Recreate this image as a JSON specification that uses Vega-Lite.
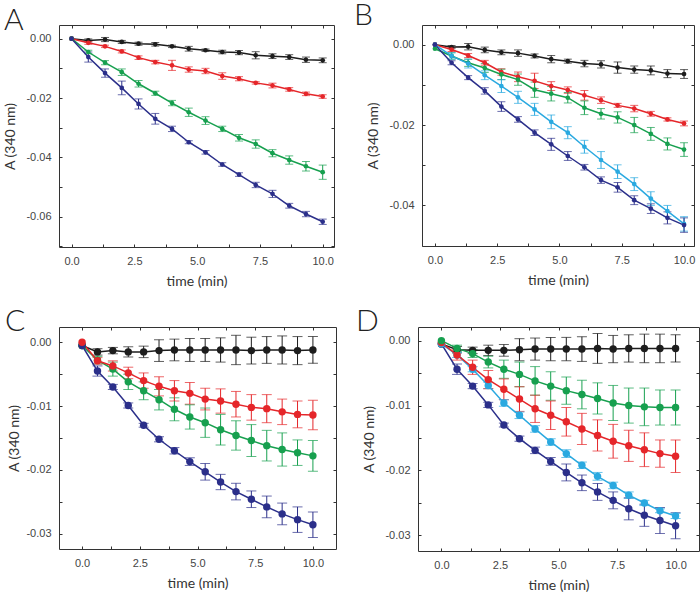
{
"$schema": "https://vega.github.io/schema/vega-lite/v6.json",
"padding": {"left": 3, "top": 0, "right": 0, "bottom": 0},
"background": "white",
"config": {
  "view": {"stroke": "#333", "strokeWidth": 1},
  "axis": {"domain": false, "grid": false, "labelFont": "Liberation Sans", "labelFontSize": 11, "labelColor": "#444", "titleFont": "Lato", "titleFontSize": 14, "titleFontWeight": "normal", "titleColor": "#333", "tickColor": "#333", "tickWidth": 1, "tickSize": -3},
  "axisBottom": {"labelPadding": 11, "titlePadding": 8},
  "axisLeft": {"labelPadding": 11, "titlePadding": 8},
  "axisTop": {"labels": false, "title": null},
  "axisRight": {"labels": false, "title": null},
  "title": {"font": "Lato", "fontSize": 30, "fontWeight": 300, "color": "#222", "anchor": "start", "frame": "group"}
},
"datasets": {
"A": [
{"t":0,"v":0,"e":0,"s":"k"},{"t":0.667,"v":-0.0006,"e":0.0005,"s":"k"},{"t":1.333,"v":-0.0003,"e":0.0007,"s":"k"},{"t":2,"v":-0.0011,"e":0.0005,"s":"k"},{"t":2.667,"v":-0.0017,"e":0.0005,"s":"k"},{"t":3.333,"v":-0.0019,"e":0.0006,"s":"k"},{"t":4,"v":-0.0026,"e":0.0004,"s":"k"},{"t":4.667,"v":-0.0034,"e":0.0008,"s":"k"},{"t":5.333,"v":-0.0039,"e":0.0004,"s":"k"},{"t":6,"v":-0.0045,"e":0.0006,"s":"k"},{"t":6.667,"v":-0.0047,"e":0.0007,"s":"k"},{"t":7.333,"v":-0.0056,"e":0.0012,"s":"k"},{"t":8,"v":-0.0059,"e":0.0008,"s":"k"},{"t":8.667,"v":-0.0062,"e":0.0008,"s":"k"},{"t":9.333,"v":-0.0071,"e":0.0009,"s":"k"},{"t":10,"v":-0.0073,"e":0.0008,"s":"k"},
{"t":0,"v":0,"e":0,"s":"r"},{"t":0.667,"v":-0.0014,"e":0.0005,"s":"r"},{"t":1.333,"v":-0.0026,"e":0.0004,"s":"r"},{"t":2,"v":-0.0043,"e":0.0005,"s":"r"},{"t":2.667,"v":-0.0064,"e":0.0006,"s":"r"},{"t":3.333,"v":-0.0079,"e":0.0006,"s":"r"},{"t":4,"v":-0.009,"e":0.0017,"s":"r"},{"t":4.667,"v":-0.0104,"e":0.0009,"s":"r"},{"t":5.333,"v":-0.0109,"e":0.0009,"s":"r"},{"t":6,"v":-0.0126,"e":0.0011,"s":"r"},{"t":6.667,"v":-0.0135,"e":0.0007,"s":"r"},{"t":7.333,"v":-0.0149,"e":0.0004,"s":"r"},{"t":8,"v":-0.0158,"e":0.0008,"s":"r"},{"t":8.667,"v":-0.0171,"e":0.0006,"s":"r"},{"t":9.333,"v":-0.0186,"e":0.0006,"s":"r"},{"t":10,"v":-0.0195,"e":0.0006,"s":"r"},
{"t":0,"v":0,"e":0,"s":"g"},{"t":0.667,"v":-0.0045,"e":0.0006,"s":"g"},{"t":1.333,"v":-0.0081,"e":0.0007,"s":"g"},{"t":2,"v":-0.0113,"e":0.0011,"s":"g"},{"t":2.667,"v":-0.0152,"e":0.0011,"s":"g"},{"t":3.333,"v":-0.0184,"e":0.0007,"s":"g"},{"t":4,"v":-0.0217,"e":0.0009,"s":"g"},{"t":4.667,"v":-0.0248,"e":0.0014,"s":"g"},{"t":5.333,"v":-0.0276,"e":0.0013,"s":"g"},{"t":6,"v":-0.0304,"e":0.0009,"s":"g"},{"t":6.667,"v":-0.0334,"e":0.0011,"s":"g"},{"t":7.333,"v":-0.0355,"e":0.0014,"s":"g"},{"t":8,"v":-0.0386,"e":0.0012,"s":"g"},{"t":8.667,"v":-0.0409,"e":0.0014,"s":"g"},{"t":9.333,"v":-0.043,"e":0.0016,"s":"g"},{"t":10,"v":-0.045,"e":0.0024,"s":"g"},
{"t":0,"v":0,"e":0,"s":"n"},{"t":0.667,"v":-0.0062,"e":0.0017,"s":"n"},{"t":1.333,"v":-0.0116,"e":0.0014,"s":"n"},{"t":2,"v":-0.0166,"e":0.0023,"s":"n"},{"t":2.667,"v":-0.022,"e":0.0017,"s":"n"},{"t":3.333,"v":-0.027,"e":0.0018,"s":"n"},{"t":4,"v":-0.0304,"e":0.0009,"s":"n"},{"t":4.667,"v":-0.0349,"e":0.0005,"s":"n"},{"t":5.333,"v":-0.0383,"e":0.0006,"s":"n"},{"t":6,"v":-0.0424,"e":0.0006,"s":"n"},{"t":6.667,"v":-0.0458,"e":0.0006,"s":"n"},{"t":7.333,"v":-0.0493,"e":0.0009,"s":"n"},{"t":8,"v":-0.0523,"e":0.0012,"s":"n"},{"t":8.667,"v":-0.0563,"e":0.0008,"s":"n"},{"t":9.333,"v":-0.0591,"e":0.0009,"s":"n"},{"t":10,"v":-0.0617,"e":0.0009,"s":"n"}
],
"B": [
{"t":0,"v":0,"e":0,"s":"k"},{"t":0.667,"v":-0.0006,"e":0.0004,"s":"k"},{"t":1.333,"v":-0.0005,"e":0.0008,"s":"k"},{"t":2,"v":-0.0013,"e":0.0007,"s":"k"},{"t":2.667,"v":-0.0019,"e":0.0006,"s":"k"},{"t":3.333,"v":-0.0021,"e":0.0008,"s":"k"},{"t":4,"v":-0.0028,"e":0.0005,"s":"k"},{"t":4.667,"v":-0.0036,"e":0.0009,"s":"k"},{"t":5.333,"v":-0.0041,"e":0.0005,"s":"k"},{"t":6,"v":-0.0047,"e":0.0008,"s":"k"},{"t":6.667,"v":-0.0049,"e":0.0009,"s":"k"},{"t":7.333,"v":-0.0057,"e":0.0014,"s":"k"},{"t":8,"v":-0.0062,"e":0.0009,"s":"k"},{"t":8.667,"v":-0.0064,"e":0.0011,"s":"k"},{"t":9.333,"v":-0.0072,"e":0.001,"s":"k"},{"t":10,"v":-0.0073,"e":0.0011,"s":"k"},
{"t":0,"v":0,"e":0,"s":"r"},{"t":0.667,"v":-0.0012,"e":0.0005,"s":"r"},{"t":1.333,"v":-0.0027,"e":0.0005,"s":"r"},{"t":2,"v":-0.0045,"e":0.0006,"s":"r"},{"t":2.667,"v":-0.0068,"e":0.0008,"s":"r"},{"t":3.333,"v":-0.008,"e":0.0012,"s":"r"},{"t":4,"v":-0.009,"e":0.0019,"s":"r"},{"t":4.667,"v":-0.0103,"e":0.0011,"s":"r"},{"t":5.333,"v":-0.0113,"e":0.0008,"s":"r"},{"t":6,"v":-0.0126,"e":0.0012,"s":"r"},{"t":6.667,"v":-0.0138,"e":0.0008,"s":"r"},{"t":7.333,"v":-0.0151,"e":0.0005,"s":"r"},{"t":8,"v":-0.0159,"e":0.0008,"s":"r"},{"t":8.667,"v":-0.0172,"e":0.0006,"s":"r"},{"t":9.333,"v":-0.0186,"e":0.0004,"s":"r"},{"t":10,"v":-0.0196,"e":0.0006,"s":"r"},
{"t":0,"v":-0.001,"e":0,"s":"g"},{"t":0.667,"v":-0.0028,"e":0.0008,"s":"g"},{"t":1.333,"v":-0.0045,"e":0.0009,"s":"g"},{"t":2,"v":-0.0058,"e":0.0011,"s":"g"},{"t":2.667,"v":-0.0074,"e":0.0013,"s":"g"},{"t":3.333,"v":-0.0087,"e":0.0014,"s":"g"},{"t":4,"v":-0.0112,"e":0.0019,"s":"g"},{"t":4.667,"v":-0.0122,"e":0.0018,"s":"g"},{"t":5.333,"v":-0.0132,"e":0.0013,"s":"g"},{"t":6,"v":-0.0157,"e":0.0017,"s":"g"},{"t":6.667,"v":-0.0172,"e":0.0013,"s":"g"},{"t":7.333,"v":-0.0181,"e":0.0014,"s":"g"},{"t":8,"v":-0.02,"e":0.0019,"s":"g"},{"t":8.667,"v":-0.0222,"e":0.0016,"s":"g"},{"t":9.333,"v":-0.0247,"e":0.0015,"s":"g"},{"t":10,"v":-0.0261,"e":0.0017,"s":"g"},
{"t":0,"v":0,"e":0,"s":"c"},{"t":0.667,"v":-0.0028,"e":0.0008,"s":"c"},{"t":1.333,"v":-0.0047,"e":0.0011,"s":"c"},{"t":2,"v":-0.0076,"e":0.0011,"s":"c"},{"t":2.667,"v":-0.0103,"e":0.0016,"s":"c"},{"t":3.333,"v":-0.0131,"e":0.0015,"s":"c"},{"t":4,"v":-0.0161,"e":0.0015,"s":"c"},{"t":4.667,"v":-0.0192,"e":0.0017,"s":"c"},{"t":5.333,"v":-0.0219,"e":0.0015,"s":"c"},{"t":6,"v":-0.0254,"e":0.0016,"s":"c"},{"t":6.667,"v":-0.0287,"e":0.0021,"s":"c"},{"t":7.333,"v":-0.0316,"e":0.0017,"s":"c"},{"t":8,"v":-0.0347,"e":0.0016,"s":"c"},{"t":8.667,"v":-0.0383,"e":0.0017,"s":"c"},{"t":9.333,"v":-0.0414,"e":0.0014,"s":"c"},{"t":10,"v":-0.0446,"e":0.0018,"s":"c"},
{"t":0,"v":0,"e":0,"s":"n"},{"t":0.667,"v":-0.0045,"e":0.0005,"s":"n"},{"t":1.333,"v":-0.0082,"e":0.0005,"s":"n"},{"t":2,"v":-0.0115,"e":0.0008,"s":"n"},{"t":2.667,"v":-0.0154,"e":0.0012,"s":"n"},{"t":3.333,"v":-0.0186,"e":0.0007,"s":"n"},{"t":4,"v":-0.0219,"e":0.0007,"s":"n"},{"t":4.667,"v":-0.0248,"e":0.0015,"s":"n"},{"t":5.333,"v":-0.0277,"e":0.0011,"s":"n"},{"t":6,"v":-0.0305,"e":0.0007,"s":"n"},{"t":6.667,"v":-0.0337,"e":0.0008,"s":"n"},{"t":7.333,"v":-0.0355,"e":0.0012,"s":"n"},{"t":8,"v":-0.0387,"e":0.0011,"s":"n"},{"t":8.667,"v":-0.0408,"e":0.0012,"s":"n"},{"t":9.333,"v":-0.0431,"e":0.0015,"s":"n"},{"t":10,"v":-0.0449,"e":0.0018,"s":"n"}
],
"C": [
{"t":0,"v":-0.0005,"e":0,"s":"k"},{"t":0.667,"v":-0.0015,"e":0.0005,"s":"k"},{"t":1.333,"v":-0.0013,"e":0.0005,"s":"k"},{"t":2,"v":-0.0015,"e":0.0008,"s":"k"},{"t":2.667,"v":-0.0015,"e":0.0009,"s":"k"},{"t":3.333,"v":-0.0013,"e":0.0017,"s":"k"},{"t":4,"v":-0.0012,"e":0.0017,"s":"k"},{"t":4.667,"v":-0.0012,"e":0.0018,"s":"k"},{"t":5.333,"v":-0.0012,"e":0.0018,"s":"k"},{"t":6,"v":-0.0012,"e":0.0019,"s":"k"},{"t":6.667,"v":-0.0012,"e":0.0023,"s":"k"},{"t":7.333,"v":-0.0013,"e":0.0021,"s":"k"},{"t":8,"v":-0.0012,"e":0.0021,"s":"k"},{"t":8.667,"v":-0.0012,"e":0.0022,"s":"k"},{"t":9.333,"v":-0.0013,"e":0.0022,"s":"k"},{"t":10,"v":-0.0012,"e":0.0021,"s":"k"},
{"t":0,"v":-0.0005,"e":0,"s":"g"},{"t":0.667,"v":-0.0028,"e":0.0006,"s":"g"},{"t":1.333,"v":-0.0042,"e":0.0011,"s":"g"},{"t":2,"v":-0.0062,"e":0.0012,"s":"g"},{"t":2.667,"v":-0.0076,"e":0.0014,"s":"g"},{"t":3.333,"v":-0.009,"e":0.0016,"s":"g"},{"t":4,"v":-0.0105,"e":0.0018,"s":"g"},{"t":4.667,"v":-0.0117,"e":0.0019,"s":"g"},{"t":5.333,"v":-0.0126,"e":0.0023,"s":"g"},{"t":6,"v":-0.0137,"e":0.0024,"s":"g"},{"t":6.667,"v":-0.0146,"e":0.0023,"s":"g"},{"t":7.333,"v":-0.0154,"e":0.0025,"s":"g"},{"t":8,"v":-0.0162,"e":0.0024,"s":"g"},{"t":8.667,"v":-0.0168,"e":0.0026,"s":"g"},{"t":9.333,"v":-0.0173,"e":0.002,"s":"g"},{"t":10,"v":-0.0178,"e":0.0024,"s":"g"},
{"t":0,"v":-0.0005,"e":0,"s":"n"},{"t":0.667,"v":-0.0045,"e":0.0008,"s":"n"},{"t":1.333,"v":-0.007,"e":0.0004,"s":"n"},{"t":2,"v":-0.0099,"e":0.0004,"s":"n"},{"t":2.667,"v":-0.013,"e":0.0003,"s":"n"},{"t":3.333,"v":-0.0152,"e":0.0004,"s":"n"},{"t":4,"v":-0.017,"e":0.0005,"s":"n"},{"t":4.667,"v":-0.0187,"e":0.0006,"s":"n"},{"t":5.333,"v":-0.0203,"e":0.0013,"s":"n"},{"t":6,"v":-0.0219,"e":0.0012,"s":"n"},{"t":6.667,"v":-0.0234,"e":0.0013,"s":"n"},{"t":7.333,"v":-0.0246,"e":0.0013,"s":"n"},{"t":8,"v":-0.0258,"e":0.0017,"s":"n"},{"t":8.667,"v":-0.0269,"e":0.0017,"s":"n"},{"t":9.333,"v":-0.0278,"e":0.002,"s":"n"},{"t":10,"v":-0.0286,"e":0.002,"s":"n"},
{"t":0,"v":0,"e":0,"s":"r"},{"t":0.667,"v":-0.0029,"e":0.0005,"s":"r"},{"t":1.333,"v":-0.0037,"e":0.0008,"s":"r"},{"t":2,"v":-0.0048,"e":0.0009,"s":"r"},{"t":2.667,"v":-0.006,"e":0.0012,"s":"r"},{"t":3.333,"v":-0.0069,"e":0.0015,"s":"r"},{"t":4,"v":-0.0076,"e":0.0016,"s":"r"},{"t":4.667,"v":-0.008,"e":0.0017,"s":"r"},{"t":5.333,"v":-0.0089,"e":0.0017,"s":"r"},{"t":6,"v":-0.0092,"e":0.0019,"s":"r"},{"t":6.667,"v":-0.0097,"e":0.002,"s":"r"},{"t":7.333,"v":-0.0102,"e":0.002,"s":"r"},{"t":8,"v":-0.0104,"e":0.0022,"s":"r"},{"t":8.667,"v":-0.0109,"e":0.002,"s":"r"},{"t":9.333,"v":-0.0113,"e":0.0021,"s":"r"},{"t":10,"v":-0.0114,"e":0.0023,"s":"r"}
],
"D": [
{"t":0,"v":-0.0005,"e":0,"s":"k"},{"t":0.667,"v":-0.0014,"e":0.0005,"s":"k"},{"t":1.333,"v":-0.0015,"e":0.0005,"s":"k"},{"t":2,"v":-0.0015,"e":0.0008,"s":"k"},{"t":2.667,"v":-0.0015,"e":0.0009,"s":"k"},{"t":3.333,"v":-0.0014,"e":0.0017,"s":"k"},{"t":4,"v":-0.0013,"e":0.0017,"s":"k"},{"t":4.667,"v":-0.0013,"e":0.0018,"s":"k"},{"t":5.333,"v":-0.0013,"e":0.0018,"s":"k"},{"t":6,"v":-0.0013,"e":0.0019,"s":"k"},{"t":6.667,"v":-0.0012,"e":0.0023,"s":"k"},{"t":7.333,"v":-0.0013,"e":0.0021,"s":"k"},{"t":8,"v":-0.0012,"e":0.0021,"s":"k"},{"t":8.667,"v":-0.0012,"e":0.0022,"s":"k"},{"t":9.333,"v":-0.0012,"e":0.0022,"s":"k"},{"t":10,"v":-0.0012,"e":0.0021,"s":"k"},
{"t":0,"v":-0.0005,"e":0,"s":"n"},{"t":0.667,"v":-0.0044,"e":0.0008,"s":"n"},{"t":1.333,"v":-0.007,"e":0.0004,"s":"n"},{"t":2,"v":-0.0099,"e":0.0004,"s":"n"},{"t":2.667,"v":-0.013,"e":0.0003,"s":"n"},{"t":3.333,"v":-0.0151,"e":0.0004,"s":"n"},{"t":4,"v":-0.0169,"e":0.0005,"s":"n"},{"t":4.667,"v":-0.0186,"e":0.0006,"s":"n"},{"t":5.333,"v":-0.0203,"e":0.0013,"s":"n"},{"t":6,"v":-0.0219,"e":0.0012,"s":"n"},{"t":6.667,"v":-0.0233,"e":0.0013,"s":"n"},{"t":7.333,"v":-0.0246,"e":0.0013,"s":"n"},{"t":8,"v":-0.0259,"e":0.0017,"s":"n"},{"t":8.667,"v":-0.0269,"e":0.0017,"s":"n"},{"t":9.333,"v":-0.0277,"e":0.002,"s":"n"},{"t":10,"v":-0.0285,"e":0.002,"s":"n"},
{"t":0,"v":-0.0005,"e":0,"s":"c"},{"t":0.667,"v":-0.0022,"e":0.0004,"s":"c"},{"t":1.333,"v":-0.0044,"e":0.0004,"s":"c"},{"t":2,"v":-0.0069,"e":0.0005,"s":"c"},{"t":2.667,"v":-0.0096,"e":0.0005,"s":"c"},{"t":3.333,"v":-0.0115,"e":0.0005,"s":"c"},{"t":4,"v":-0.0136,"e":0.0005,"s":"c"},{"t":4.667,"v":-0.0156,"e":0.0005,"s":"c"},{"t":5.333,"v":-0.0174,"e":0.0006,"s":"c"},{"t":6,"v":-0.0192,"e":0.0005,"s":"c"},{"t":6.667,"v":-0.0209,"e":0.0006,"s":"c"},{"t":7.333,"v":-0.0223,"e":0.0005,"s":"c"},{"t":8,"v":-0.0238,"e":0.0005,"s":"c"},{"t":8.667,"v":-0.025,"e":0.0004,"s":"c"},{"t":9.333,"v":-0.0262,"e":0.0003,"s":"c"},{"t":10,"v":-0.027,"e":0.0004,"s":"c"},
{"t":0,"v":-0.0003,"e":0,"s":"r"},{"t":0.667,"v":-0.0022,"e":0.0008,"s":"r"},{"t":1.333,"v":-0.0041,"e":0.0011,"s":"r"},{"t":2,"v":-0.006,"e":0.0014,"s":"r"},{"t":2.667,"v":-0.0075,"e":0.0016,"s":"r"},{"t":3.333,"v":-0.009,"e":0.0019,"s":"r"},{"t":4,"v":-0.0105,"e":0.0021,"s":"r"},{"t":4.667,"v":-0.0115,"e":0.0022,"s":"r"},{"t":5.333,"v":-0.0125,"e":0.0022,"s":"r"},{"t":6,"v":-0.0136,"e":0.0024,"s":"r"},{"t":6.667,"v":-0.0146,"e":0.0024,"s":"r"},{"t":7.333,"v":-0.0155,"e":0.0026,"s":"r"},{"t":8,"v":-0.0162,"e":0.0024,"s":"r"},{"t":8.667,"v":-0.0168,"e":0.0026,"s":"r"},{"t":9.333,"v":-0.0174,"e":0.0021,"s":"r"},{"t":10,"v":-0.0178,"e":0.0025,"s":"r"},
{"t":0,"v":0,"e":0,"s":"g"},{"t":0.667,"v":-0.0012,"e":0.0005,"s":"g"},{"t":1.333,"v":-0.002,"e":0.0006,"s":"g"},{"t":2,"v":-0.0033,"e":0.0009,"s":"g"},{"t":2.667,"v":-0.0044,"e":0.0014,"s":"g"},{"t":3.333,"v":-0.0052,"e":0.0019,"s":"g"},{"t":4,"v":-0.0062,"e":0.0022,"s":"g"},{"t":4.667,"v":-0.007,"e":0.0022,"s":"g"},{"t":5.333,"v":-0.0077,"e":0.0021,"s":"g"},{"t":6,"v":-0.0083,"e":0.0022,"s":"g"},{"t":6.667,"v":-0.0089,"e":0.0024,"s":"g"},{"t":7.333,"v":-0.0096,"e":0.0027,"s":"g"},{"t":8,"v":-0.01,"e":0.0027,"s":"g"},{"t":8.667,"v":-0.0102,"e":0.0029,"s":"g"},{"t":9.333,"v":-0.0103,"e":0.0027,"s":"g"},{"t":10,"v":-0.0103,"e":0.0027,"s":"g"}
]
},
"vconcat": [
{"hconcat": [
{
  "width": 275, "height": 222,
  "title": {"text": "A", "dx": -55, "offset": -35, "baseline": "alphabetic"},
  "data": {"name": "A"},
  "layer": [
    {"transform": [{"filter": "datum.t > 0"}], "mark": {"type": "errorbar", "ticks": {"size": 8}, "thickness": 1},
     "encoding": {"x": {"field": "t", "type": "quantitative", "scale": {"domain": [-0.5, 10.45], "nice": false, "zero": false}, "axis": null},
       "y": {"field": "v", "type": "quantitative", "scale": {"domain": [-0.0702, 0.0046], "nice": false, "zero": false}, "axis": null},
       "yError": {"field": "e"},
       "color": {"field": "s", "type": "nominal", "scale": {"domain": ["k","r","g","c","n"], "range": ["#1d1d1d","#e5262a","#17a04f","#2aa9e0","#2b2f8a"]}, "legend": null}}},
    {"mark": {"type": "line", "strokeWidth": 1.5},
     "encoding": {"x": {"field": "t", "type": "quantitative", "scale": {"domain": [-0.5, 10.45], "nice": false, "zero": false}, "axis": {"orient": "top", "values": [0,1.25,2.5,3.75,5,6.25,7.5,8.75,10]}},
       "y": {"field": "v", "type": "quantitative", "scale": {"domain": [-0.0702, 0.0046], "nice": false, "zero": false}, "axis": {"orient": "right", "values": [0,-0.01,-0.02,-0.03,-0.04,-0.05,-0.06,-0.07]}},
       "color": {"field": "s", "type": "nominal", "scale": {"domain": ["k","r","g","c","n"], "range": ["#1d1d1d","#e5262a","#17a04f","#2aa9e0","#2b2f8a"]}, "legend": null}}},
    {"mark": {"type": "point", "filled": true, "size": 22, "opacity": 1},
     "encoding": {"x": {"field": "t", "type": "quantitative", "scale": {"domain": [-0.5, 10.45], "nice": false, "zero": false}, "axis": {"orient": "bottom", "title": "time (min)", "values": [0,1.25,2.5,3.75,5,6.25,7.5,8.75,10], "labelExpr": "round(datum.value*100) % 250 != 0 ? '' : format(datum.value, '.1f')"}},
       "y": {"field": "v", "type": "quantitative", "scale": {"domain": [-0.0702, 0.0046], "nice": false, "zero": false}, "axis": {"orient": "left", "title": "A (340 nm)", "values": [0,-0.01,-0.02,-0.03,-0.04,-0.05,-0.06,-0.07], "labelExpr": "abs(round(datum.value*100)) % 2 == 1 ? '' : replace(format(datum.value, '.2f'), '−', '-')"}},
       "color": {"field": "s", "type": "nominal", "scale": {"domain": ["k","r","g","c","n"], "range": ["#1d1d1d","#e5262a","#17a04f","#2aa9e0","#2b2f8a"]}, "legend": null}}}
  ],
  "resolve": {"axis": {"x": "independent", "y": "independent"}}
},
{
  "width": 272, "height": 221,
  "title": {"text": "B", "dx": -68, "offset": -30, "baseline": "alphabetic"},
  "data": {"name": "B"},
  "layer": [
    {"transform": [{"filter": "datum.t > 0"}], "mark": {"type": "errorbar", "ticks": {"size": 8}, "thickness": 1},
     "encoding": {"x": {"field": "t", "type": "quantitative", "scale": {"domain": [-0.52, 10.4], "nice": false, "zero": false}, "axis": null},
       "y": {"field": "v", "type": "quantitative", "scale": {"domain": [-0.0501, 0.0049], "nice": false, "zero": false}, "axis": null},
       "yError": {"field": "e"},
       "color": {"field": "s", "type": "nominal", "scale": {"domain": ["k","r","g","c","n"], "range": ["#1d1d1d","#e5262a","#17a04f","#2aa9e0","#2b2f8a"]}, "legend": null}}},
    {"mark": {"type": "line", "strokeWidth": 1.5},
     "encoding": {"x": {"field": "t", "type": "quantitative", "scale": {"domain": [-0.52, 10.4], "nice": false, "zero": false}, "axis": {"orient": "top", "values": [0,1.25,2.5,3.75,5,6.25,7.5,8.75,10]}},
       "y": {"field": "v", "type": "quantitative", "scale": {"domain": [-0.0501, 0.0049], "nice": false, "zero": false}, "axis": {"orient": "right", "values": [0,-0.01,-0.02,-0.03,-0.04,-0.05]}},
       "color": {"field": "s", "type": "nominal", "scale": {"domain": ["k","r","g","c","n"], "range": ["#1d1d1d","#e5262a","#17a04f","#2aa9e0","#2b2f8a"]}, "legend": null}}},
    {"mark": {"type": "point", "filled": true, "size": 22, "opacity": 1},
     "encoding": {"x": {"field": "t", "type": "quantitative", "scale": {"domain": [-0.52, 10.4], "nice": false, "zero": false}, "axis": {"orient": "bottom", "title": "time (min)", "values": [0,1.25,2.5,3.75,5,6.25,7.5,8.75,10], "labelExpr": "round(datum.value*100) % 250 != 0 ? '' : format(datum.value, '.1f')"}},
       "y": {"field": "v", "type": "quantitative", "scale": {"domain": [-0.0501, 0.0049], "nice": false, "zero": false}, "axis": {"orient": "left", "title": "A (340 nm)", "values": [0,-0.01,-0.02,-0.03,-0.04,-0.05], "labelExpr": "abs(round(datum.value*100)) % 2 == 1 ? '' : replace(format(datum.value, '.2f'), '−', '-')"}},
       "color": {"field": "s", "type": "nominal", "scale": {"domain": ["k","r","g","c","n"], "range": ["#1d1d1d","#e5262a","#17a04f","#2aa9e0","#2b2f8a"]}, "legend": null}}}
  ],
  "resolve": {"axis": {"x": "independent", "y": "independent"}}
}
], "spacing": 18},
{"hconcat": [
{
  "width": 277, "height": 222,
  "title": {"text": "C", "dx": -54, "offset": -34, "baseline": "alphabetic"},
  "data": {"name": "C"},
  "layer": [
    {"transform": [{"filter": "datum.t > 0"}], "mark": {"type": "errorbar", "ticks": {"size": 10}, "thickness": 1},
     "encoding": {"x": {"field": "t", "type": "quantitative", "scale": {"domain": [-1, 11], "nice": false, "zero": false}, "axis": null},
       "y": {"field": "v", "type": "quantitative", "scale": {"domain": [-0.0324, 0.0024], "nice": false, "zero": false}, "axis": null},
       "yError": {"field": "e"},
       "color": {"field": "s", "type": "nominal", "scale": {"domain": ["k","r","g","c","n"], "range": ["#1d1d1d","#e5262a","#17a04f","#2aa9e0","#2b2f8a"]}, "legend": null}}},
    {"mark": {"type": "line", "strokeWidth": 1.5},
     "encoding": {"x": {"field": "t", "type": "quantitative", "scale": {"domain": [-1, 11], "nice": false, "zero": false}, "axis": {"orient": "top", "values": [0,1.25,2.5,3.75,5,6.25,7.5,8.75,10]}},
       "y": {"field": "v", "type": "quantitative", "scale": {"domain": [-0.0324, 0.0024], "nice": false, "zero": false}, "axis": {"orient": "right", "values": [0,-0.005,-0.01,-0.015,-0.02,-0.025,-0.03]}},
       "color": {"field": "s", "type": "nominal", "scale": {"domain": ["k","r","g","c","n"], "range": ["#1d1d1d","#e5262a","#17a04f","#2aa9e0","#2b2f8a"]}, "legend": null}}},
    {"mark": {"type": "point", "filled": true, "size": 55, "opacity": 1},
     "encoding": {"x": {"field": "t", "type": "quantitative", "scale": {"domain": [-1, 11], "nice": false, "zero": false}, "axis": {"orient": "bottom", "title": "time (min)", "values": [0,1.25,2.5,3.75,5,6.25,7.5,8.75,10], "labelExpr": "round(datum.value*100) % 250 != 0 ? '' : format(datum.value, '.1f')"}},
       "y": {"field": "v", "type": "quantitative", "scale": {"domain": [-0.0324, 0.0024], "nice": false, "zero": false}, "axis": {"orient": "left", "title": "A (340 nm)", "titlePadding": 4, "values": [0,-0.005,-0.01,-0.015,-0.02,-0.025,-0.03], "labelExpr": "abs(round(datum.value*1000)) % 10 != 0 ? '' : replace(format(datum.value, '.2f'), '−', '-')"}},
       "color": {"field": "s", "type": "nominal", "scale": {"domain": ["k","r","g","c","n"], "range": ["#1d1d1d","#e5262a","#17a04f","#2aa9e0","#2b2f8a"]}, "legend": null}}}
  ],
  "resolve": {"axis": {"x": "independent", "y": "independent"}}
},
{
  "width": 281, "height": 224,
  "title": {"text": "D", "dx": -62, "offset": -34, "baseline": "alphabetic"},
  "data": {"name": "D"},
  "layer": [
    {"transform": [{"filter": "datum.t > 0"}], "mark": {"type": "errorbar", "ticks": {"size": 10}, "thickness": 1},
     "encoding": {"x": {"field": "t", "type": "quantitative", "scale": {"domain": [-1, 11], "nice": false, "zero": false}, "axis": null},
       "y": {"field": "v", "type": "quantitative", "scale": {"domain": [-0.0324, 0.0021], "nice": false, "zero": false}, "axis": null},
       "yError": {"field": "e"},
       "color": {"field": "s", "type": "nominal", "scale": {"domain": ["k","r","g","c","n"], "range": ["#1d1d1d","#e5262a","#17a04f","#2aa9e0","#2b2f8a"]}, "legend": null}}},
    {"mark": {"type": "line", "strokeWidth": 1.5},
     "encoding": {"x": {"field": "t", "type": "quantitative", "scale": {"domain": [-1, 11], "nice": false, "zero": false}, "axis": {"orient": "top", "values": [0,1.25,2.5,3.75,5,6.25,7.5,8.75,10]}},
       "y": {"field": "v", "type": "quantitative", "scale": {"domain": [-0.0324, 0.0021], "nice": false, "zero": false}, "axis": {"orient": "right", "values": [0,-0.005,-0.01,-0.015,-0.02,-0.025,-0.03]}},
       "color": {"field": "s", "type": "nominal", "scale": {"domain": ["k","r","g","c","n"], "range": ["#1d1d1d","#e5262a","#17a04f","#2aa9e0","#2b2f8a"]}, "legend": null}}},
    {"mark": {"type": "point", "filled": true, "size": 55, "opacity": 1},
     "encoding": {"x": {"field": "t", "type": "quantitative", "scale": {"domain": [-1, 11], "nice": false, "zero": false}, "axis": {"orient": "bottom", "title": "time (min)", "values": [0,1.25,2.5,3.75,5,6.25,7.5,8.75,10], "labelExpr": "round(datum.value*100) % 250 != 0 ? '' : format(datum.value, '.1f')"}},
       "y": {"field": "v", "type": "quantitative", "scale": {"domain": [-0.0324, 0.0021], "nice": false, "zero": false}, "axis": {"orient": "left", "title": "A (340 nm)", "values": [0,-0.005,-0.01,-0.015,-0.02,-0.025,-0.03], "labelExpr": "abs(round(datum.value*1000)) % 10 != 0 ? '' : replace(format(datum.value, '.2f'), '−', '-')"}},
       "color": {"field": "s", "type": "nominal", "scale": {"domain": ["k","r","g","c","n"], "range": ["#1d1d1d","#e5262a","#17a04f","#2aa9e0","#2b2f8a"]}, "legend": null}}}
  ],
  "resolve": {"axis": {"x": "independent", "y": "independent"}}
}
], "spacing": 18}
],
"spacing": 17
}
